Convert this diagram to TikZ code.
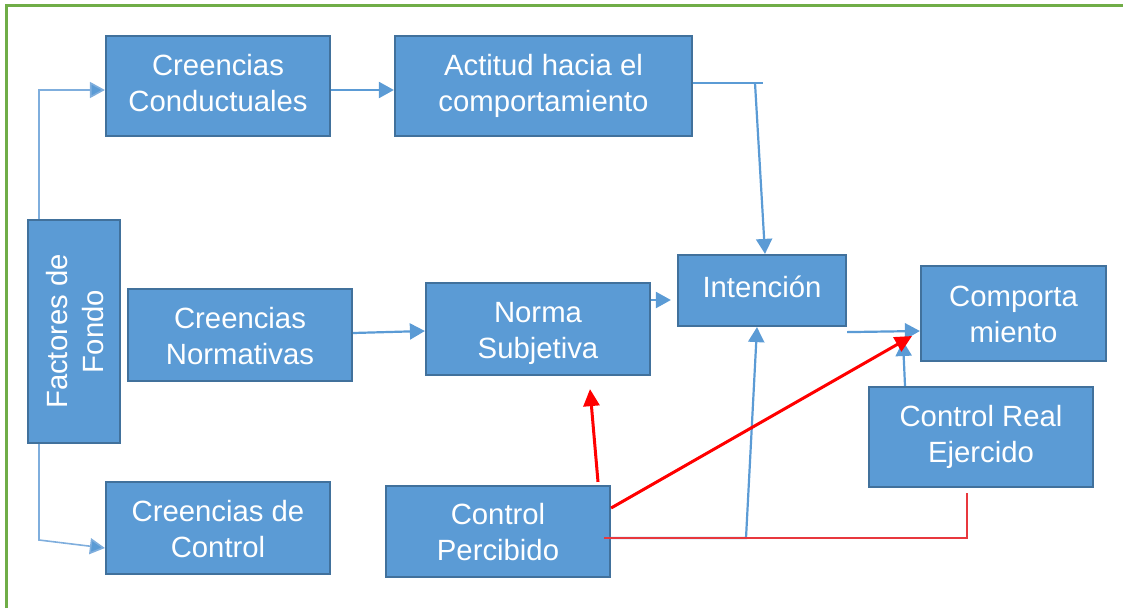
\documentclass[tikz,border=0pt]{standalone}
\usepackage{fontspec}
\setmainfont{Liberation Sans}
\usetikzlibrary{arrows.meta}
\definecolor{boxfill}{HTML}{5B9BD5}
\definecolor{boxline}{HTML}{41719C}
\definecolor{framegreen}{HTML}{70AD47}
\definecolor{connblue}{HTML}{5B9BD5}
\definecolor{connlight}{HTML}{7FAEDD}
\definecolor{redthin}{HTML}{E8383D}
\newcommand{\twolines}[3][-4pt]{\raisebox{#1}[\height][\depth]{\begin{tabular}{@{}c@{}}#2\\#3\end{tabular}}}
\begin{document}
\begin{tikzpicture}[x=1pt,y=-1pt,
  box/.style={draw=boxline, line width=2.2pt, fill=boxfill, text=white, inner sep=0pt,
    align=center, font=\fontsize{29.3}{36}\selectfont},
  bl/.style={draw=connblue, line width=2.2pt, -{Triangle[length=15pt,width=16pt]}},
  lbl/.style={draw=connlight, line width=1.6pt, -{Triangle[length=15pt,width=16pt,fill=connblue]}},
  plainblue/.style={draw=connblue, line width=2pt},
  rd/.style={draw=red, line width=3pt, -{Triangle[length=17pt,width=16pt]}},
  rthin/.style={draw=redthin, line width=1.5pt}]
\useasboundingbox (0,0) rectangle (1123,608);
\draw[framegreen, line width=2.5pt] (6.5,608) -- (6.5,5.5) -- (1123,5.5);

\node[box, minimum width=224pt, minimum height=100pt] (cc) at (218,86) {\twolines[0pt]{Creencias}{Conductuales}};
\node[box, minimum width=297pt, minimum height=100pt] (act) at (543.5,86) {\twolines[0pt]{Actitud hacia el}{comportamiento}};
\node[box, minimum width=92pt, minimum height=223pt] (fon) at (74,331.5) {\rotatebox{90}{\twolines{Factores de}{Fondo}}};
\node[box, minimum width=224pt, minimum height=92pt] (cn) at (240,335) {\twolines{Creencias}{Normativas}};
\node[box, minimum width=224pt, minimum height=92pt] (ns) at (538,329) {\twolines{Norma}{Subjetiva}};
\node[box, minimum width=168pt, minimum height=71pt] (int) at (762,290.5) {\raisebox{4pt}[\height][\depth]{Intención}};
\node[box, minimum width=185pt, minimum height=95pt] (comp) at (1013.5,313.5) {\twolines{Comporta}{miento}};
\node[box, minimum width=224pt, minimum height=100pt] (cre) at (981,437) {\twolines[0pt]{Control Real}{Ejercido}};
\node[box, minimum width=224pt, minimum height=92pt] (cdc) at (218,528) {\twolines{Creencias de}{Control}};
\node[box, minimum width=224pt, minimum height=91pt] (cp) at (498,531.5) {\twolines{Control}{Percibido}};

\coordinate (f1) at (39,90);
\coordinate (f2) at (39,540);
\draw[lbl] (fon.north -| f1) -- (f1) -- (cc.west |- f1);
\draw[lbl] (fon.south -| f2) -- (f2) -- ([yshift=-20pt]cdc.west);

\draw[bl] ([yshift=-4pt]cc.east) -- ([yshift=-4pt]act.west);
\coordinate (a1) at (763,83);
\coordinate (a2) at (755,83);
\draw[plainblue] (act.east |- a1) -- (a1);
\draw[bl] (a2) -- ([xshift=3pt]int.north);

\draw[bl] ([yshift=2pt]cn.east) -- ([yshift=-2pt]ns.west);
\draw[bl] ([yshift=29pt]ns.east) -- ([xshift=-6pt,yshift=-9.5pt]int.west);
\draw[bl] ([yshift=-5pt]int.south east) -- ([yshift=-17.5pt]comp.west);
\coordinate (c1) at (903,341);
\draw[bl] ([xshift=-76pt]cre.north) -- (c1);

\coordinate (p1) at ([xshift=-7pt,yshift=-6.5pt]cp.east);
\coordinate (p2) at (746,538);
\draw[bl] (p1) -- (p2) -- ([xshift=-5pt]int.south);

\coordinate (r1) at (912,336);
\draw[rd] ([yshift=23.5pt]cp.east) -- (r1);
\draw[rd] ([xshift=100pt,yshift=3pt]cp.north) -- ([xshift=52pt,yshift=-13pt]ns.south);
\coordinate (r2) at (967,538);
\draw[rthin] (p1) -- (r2) -- ([xshift=-14pt,yshift=-5pt]cre.south);
\end{tikzpicture}
\end{document}
